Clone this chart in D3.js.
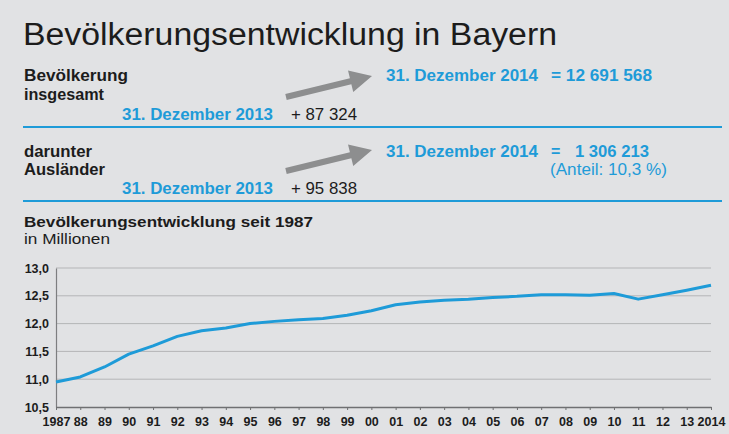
<!DOCTYPE html>
<html>
<head>
<meta charset="utf-8">
<script src="https://cdn.jsdelivr.net/npm/d3@7"></script>
<style>
  html, body { margin: 0; padding: 0; background: #e1e2e4; }
  svg { display: block; font-family: "Liberation Sans", Arial, sans-serif; }
</style>
</head>
<body>
<svg id="chart"></svg>
<script>
// population of Bavaria, millions, 31 Dec of each year
const years = d3.range(1987, 2015);
const population = [
  10.95, 11.04, 11.22, 11.45, 11.60, 11.77, 11.87, 11.92, 12.00, 12.04,
  12.07, 12.09, 12.15, 12.23, 12.34, 12.39, 12.42, 12.44, 12.47, 12.49,
  12.52, 12.52, 12.51, 12.54, 12.44, 12.52, 12.60, 12.69
];
const yearLabels = ['1987', '88', '89', '90', '91', '92', '93', '94', '95', '96', '97', '98', '99',
  '00', '01', '02', '03', '04', '05', '06', '07', '08', '09', '10', '11', '12', '13', '2014'];
const yTicks = [10.5, 11.0, 11.5, 12.0, 12.5, 13.0];

const width = 729, height = 434;
const blue = '#1e9bd8';
const dark = '#1c1c1c';
const arrowGrey = '#8d8e8f';

const svg = d3.select('#chart').attr('width', width).attr('height', height);

svg.append('rect').attr('width', width).attr('height', height).attr('fill', '#e1e2e4');

// helper for header texts
function label(x, y, txt, opts) {
  const t = svg.append('text')
    .attr('x', x).attr('y', y)
    .attr('font-size', opts.size)
    .attr('font-weight', opts.bold ? 'bold' : 'normal')
    .attr('fill', opts.color || dark)
    .text(txt);
  if (opts.len) t.attr('textLength', opts.len).attr('lengthAdjust', 'spacingAndGlyphs');
  return t;
}

// title
label(23, 45, 'Bevölkerungsentwicklung in Bayern', { size: 31, len: 534 });

// block 1
label(24, 81, 'Bevölkerung', { size: 16, bold: true, len: 104 });
label(24, 100, 'insgesamt', { size: 16, bold: true, len: 80 });
label(122, 120, '31. Dezember 2013', { size: 16, bold: true, color: blue, len: 151 });
label(291, 120, '+ 87 324', { size: 16.5, len: 66 });
label(386, 81, '31. Dezember 2014', { size: 16, bold: true, color: blue, len: 152 });
label(551, 81, '= 12 691 568', { size: 16, bold: true, color: blue, len: 101 });

// block 2
label(24, 157, 'darunter', { size: 16, bold: true, len: 68 });
label(24, 175, 'Ausländer', { size: 16, bold: true, len: 81 });
label(122, 194, '31. Dezember 2013', { size: 16, bold: true, color: blue, len: 151 });
label(291, 194, '+ 95 838', { size: 16.5, len: 66 });
label(386, 157, '31. Dezember 2014', { size: 16, bold: true, color: blue, len: 152 });
label(551, 157, '=', { size: 16, bold: true, color: blue });
label(575, 157, '1 306 213', { size: 16, bold: true, color: blue, len: 74 });
label(550, 175, '(Anteil: 10,3 %)', { size: 16, color: blue, len: 117 });

// arrows
function arrow(x1, y1, x2, y2) {
  const ang = Math.atan2(y2 - y1, x2 - x1);
  const headLen = 22, headHalf = 11, shaft = 3;
  const bx = x2 - headLen * Math.cos(ang), by = y2 - headLen * Math.sin(ang);
  const nx = -Math.sin(ang), ny = Math.cos(ang);
  const pts = [
    [x1 + nx * shaft, y1 + ny * shaft],
    [bx + nx * shaft, by + ny * shaft],
    [bx + nx * headHalf, by + ny * headHalf],
    [x2, y2],
    [bx - nx * headHalf, by - ny * headHalf],
    [bx - nx * shaft, by - ny * shaft],
    [x1 - nx * shaft, y1 - ny * shaft]
  ];
  svg.append('path').attr('d', d3.line()(pts) + 'Z').attr('fill', arrowGrey);
}
arrow(286, 97, 372, 76);
arrow(286, 171, 372, 150);

// blue separators
svg.append('line').attr('x1', 23).attr('x2', 722).attr('y1', 127).attr('y2', 127)
  .attr('stroke', blue).attr('stroke-width', 2);
svg.append('line').attr('x1', 23).attr('x2', 722).attr('y1', 201).attr('y2', 201)
  .attr('stroke', blue).attr('stroke-width', 2);

// chart heading
label(24, 227, 'Bevölkerungsentwicklung seit 1987', { size: 15.5, bold: true, len: 289 });
label(24, 244, 'in Millionen', { size: 14.5, len: 86 });

// chart
const x = d3.scaleLinear().domain([1987, 2014]).range([56, 711]);
const y = d3.scaleLinear().domain([10.5, 13.0]).range([407, 268]);

const g = svg.append('g');

// gridlines
g.selectAll('.grid')
  .data(yTicks.filter(d => d > 10.5))
  .enter()
  .append('line')
  .attr('class', 'grid')
  .attr('x1', x(1987)).attr('x2', x(2014))
  .attr('y1', d => y(d)).attr('y2', d => y(d))
  .attr('stroke', '#b4b5b7').attr('stroke-width', 1);

// y axis
const yAxis = g.append('g')
  .attr('transform', `translate(${x(1987)},0)`)
  .call(d3.axisLeft(y).tickValues(yTicks).tickSize(0).tickPadding(7)
    .tickFormat(d => d3.format('.1f')(d).replace('.', ',')));
yAxis.select('.domain').attr('stroke', '#7d7e80').attr('stroke-width', 1.2);
yAxis.selectAll('text').attr('font-size', 12.5).attr('font-weight', 'bold').attr('fill', dark)
  .attr('font-family', '"Liberation Sans", Arial, sans-serif');

// x axis
const xAxis = g.append('g')
  .attr('transform', `translate(0,${y(10.5)})`)
  .call(d3.axisBottom(x).tickValues(years).tickSizeInner(3).tickSizeOuter(0).tickPadding(7)
    .tickFormat((d, i) => yearLabels[i]));
xAxis.select('.domain').attr('stroke', '#6f7072').attr('stroke-width', 1.5);
xAxis.selectAll('.tick line').attr('stroke', '#6f7072');
xAxis.selectAll('text').attr('font-size', 12.5).attr('font-weight', 'bold').attr('fill', dark)
  .attr('font-family', '"Liberation Sans", Arial, sans-serif');

// population line
g.append('path')
  .datum(population)
  .attr('fill', 'none')
  .attr('stroke', blue)
  .attr('stroke-width', 3)
  .attr('stroke-linejoin', 'round')
  .attr('d', d3.line()
    .x((d, i) => x(years[i]))
    .y(d => y(d)));
</script>
</body>
</html>
